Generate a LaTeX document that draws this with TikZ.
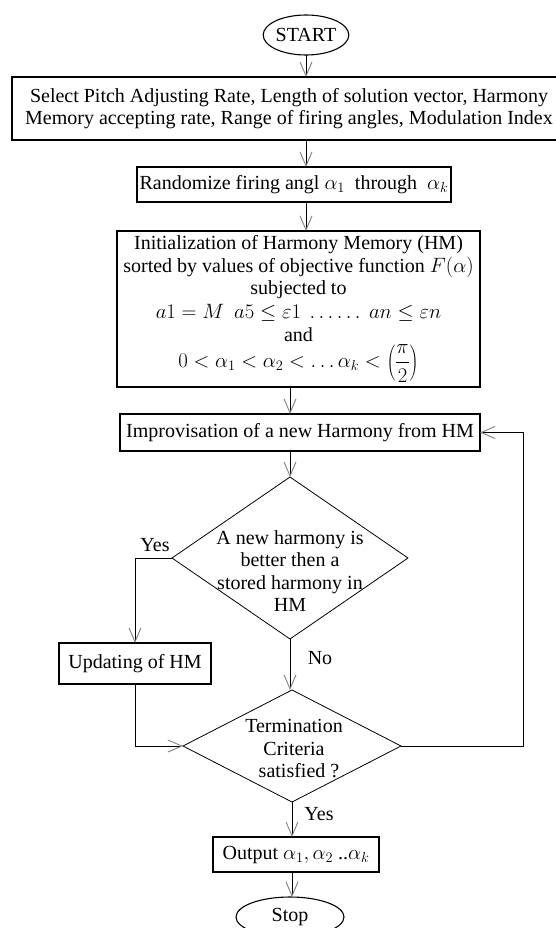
\documentclass[tikz,border=0pt]{standalone}
\usepackage{fontspec}
\setmainfont{Liberation Serif}
\usetikzlibrary{shapes.geometric,arrows.meta}
\begin{document}
\begin{tikzpicture}[x=1pt,y=-1pt,
  base/.style={font=\fontsize{20}{22.5}\selectfont, inner sep=0pt, outer sep=0pt},
  procbox/.style={base, draw, line width=1.1pt, rectangle, align=center},
  termin/.style={base, draw, ellipse, line width=1.1pt},
  decision/.style={draw, diamond, line width=0.8pt, inner sep=0pt, outer sep=0pt},
  dtext/.style={base, align=center},
  lbl/.style={base},
  arr/.style={line width=1pt, -{Straight Barb[length=14pt,width=12pt,line width=0.9pt,color=gray]}},
  conn/.style={line width=1pt}]
\useasboundingbox (0,0) rectangle (555,928);

\node[termin, minimum width=84pt, minimum height=40pt] (start) at (306,35) {START};
\node[procbox, minimum width=554pt, minimum height=63pt] (box1) at (289,108.5)
  {Select Pitch Adjusting Rate, Length of solution vector, Harmony\\
   Memory accepting rate, Range of firing angles, Modulation Index};
\node[procbox, minimum width=314pt, minimum height=35pt] (box2) at (294,184.5)
  {Randomize firing angl $\alpha_1$\ \ through \ $\alpha_k$};
\node[procbox, minimum width=363pt, minimum height=156pt] (box3) at (298.5,309)
  {Initialization of Harmony Memory (HM)\\
   sorted by values of objective function $F(\alpha)$\\
   subjected to\\[1.5pt]
   $a1=M\ \ a5\leq\varepsilon1\ \ldots\ldots\ an\leq\varepsilon n$\\
   and\\[2pt]
   $0<\alpha_1<\alpha_2<\ldots\alpha_k<\left(\displaystyle\frac{\pi}{2}\right)$};
\node[procbox, minimum width=360pt, minimum height=37pt] (improv) at (300,432.5)
  {Improvisation of a new Harmony from HM};
\node[decision, minimum width=236pt, minimum height=162pt] (d1) at (290,558) {};
\node[dtext] (d1t) at (290,571)
  {A new harmony is\\ better then a\\ stored harmony in\\ HM};
\node[procbox, minimum width=152pt, minimum height=41pt] (upd) at (135,663.5)
  {Updating of HM};
\node[decision, minimum width=218pt, minimum height=112pt] (term) at (292,746) {};
\node[dtext] (termt) at (294,749)
  {Termination\\ Criteria\\ \ \ satisfied ?};
\node[procbox, minimum width=166pt, minimum height=35pt] (out) at (296,854.5)
  {Output $\alpha_1,\alpha_2$ ..$\alpha_k$};
\node[termin, minimum width=108pt, minimum height=40pt] (stop) at (290,917) {Stop};

\node[lbl] (lyes1) at (155,545) {Yes};
\node[lbl] (lno) at (320,658) {No};
\node[lbl] (lyes2) at (319,814) {Yes};

\coordinate (loop) at (523,0);

\draw[arr] (start.south) -- (box1.north -| start.south);
\draw[arr] (box1.south -| start.south) -- (box2.north -| start.south);
\draw[arr] (box2.south -| start.south) -- (box3.north -| start.south);
\draw[arr] (box3.south -| d1.north) -- (improv.north -| d1.north);
\draw[arr] (improv.south -| d1.north) -- (d1.north);
\draw[arr] (d1.west) -| (upd.north);
\draw[arr] (d1.south) -- (d1.south |- term.north);
\draw[arr] (upd.south) |- (term.west);
\draw[arr] (term.east) -| (loop |- improv.east) -- (improv.east);
\draw[arr] (term.south) -- (out.north -| term.south);
\draw[arr] (out.south -| term.south) -- (stop.north -| term.south);
\end{tikzpicture}
\end{document}
